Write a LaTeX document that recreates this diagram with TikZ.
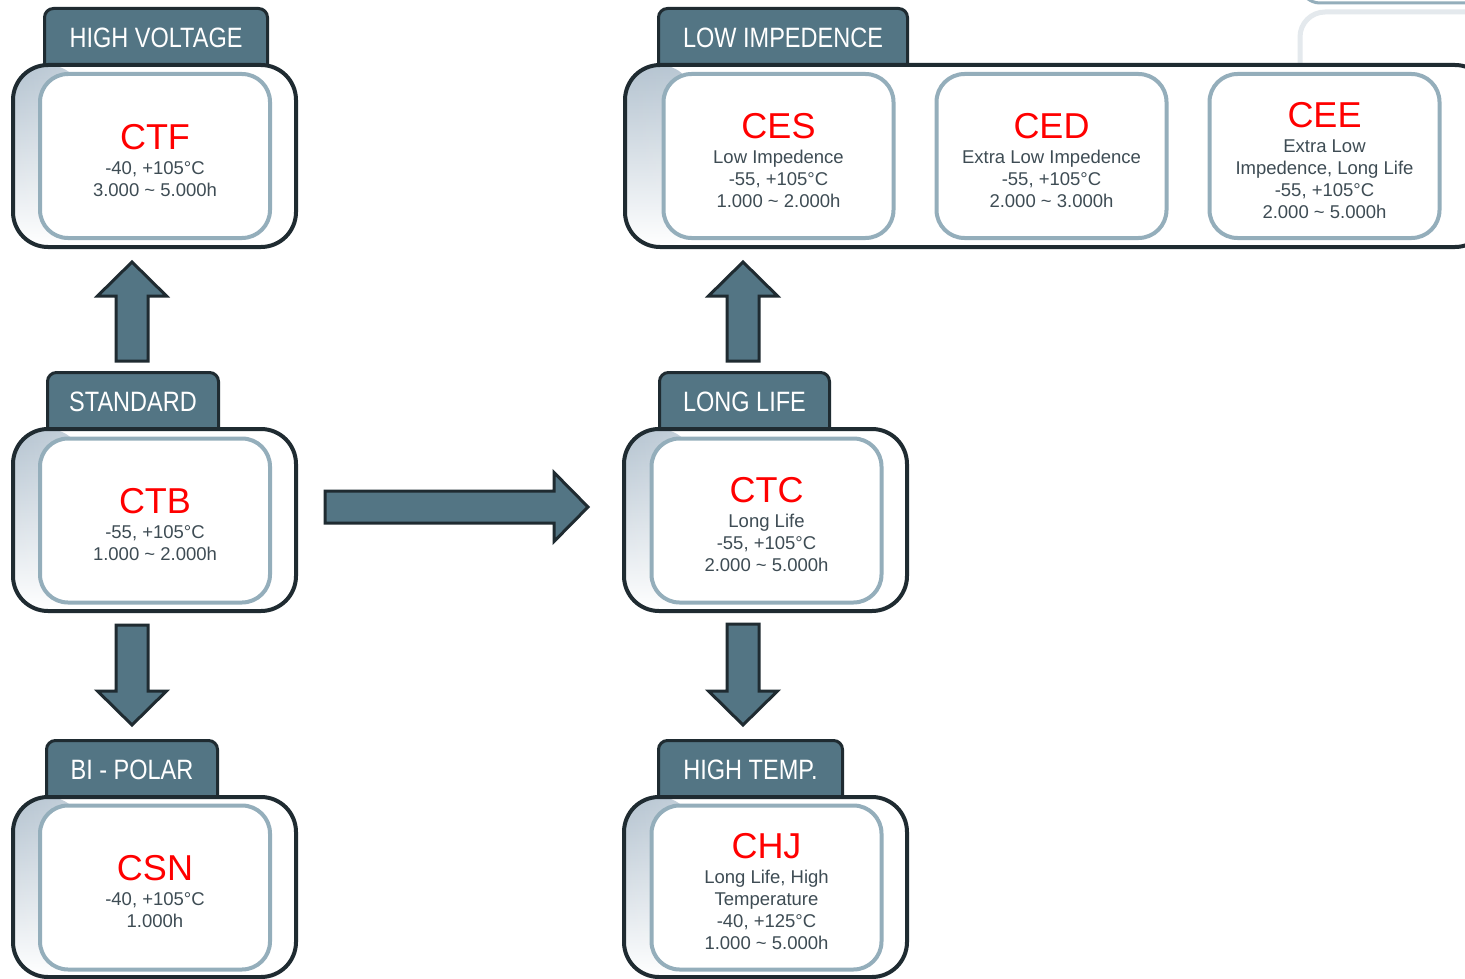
\documentclass[tikz,border=0pt]{standalone}
\usepackage{fontspec}
\setmainfont{Liberation Sans}
\newfontfamily\tabfont[FakeStretch=0.84]{Liberation Sans}
\usetikzlibrary{calc,fadings}
\definecolor{tabfill}{HTML}{537584}
\definecolor{darkline}{HTML}{1F2B31}
\definecolor{innerline}{HTML}{94AEBB}
\definecolor{bodytext}{HTML}{3E4C54}
\definecolor{shL}{HTML}{B4C3D0}
\definecolor{titlered}{HTML}{FF0000}
\definecolor{faint}{HTML}{E4E9ED}
\tikzset{
  tabbox/.style={draw=darkline, line width=3pt, fill=tabfill, rounded corners=9pt,
    minimum height=66pt, anchor=north, text=white,
    font=\tabfont\fontsize{28}{28}\selectfont, text height=18pt, text depth=6pt, inner sep=0pt},
  outerbox/.style={draw=darkline, line width=4pt, rounded corners=35pt, fill=white,
    path picture={\shade[top color=shL, bottom color=white, path fading=east]
      (path picture bounding box.north west) rectangle ([xshift=70pt]path picture bounding box.south west);},
    minimum height=182pt, minimum width=283pt, inner sep=0pt},
  innerbox/.style={draw=innerline, line width=4pt, fill=white, rounded corners=28pt,
    minimum width=230pt, minimum height=164pt, align=center, text=bodytext,
    font=\fontsize{18.5}{22}\selectfont, inner sep=0pt},
  barrow/.style={draw=darkline, line width=3pt, fill=tabfill, line join=miter},
}
\newcommand\ttl[1]{{\fontsize{36}{36}\selectfont\color{titlered}\rule{0pt}{33.5pt}#1}\\[3pt]}
\newcommand\blockarrow[2]{%
  \draw[barrow] let \p1=(#1), \p2=(#2), \n1={veclen(\x2-\x1,\y2-\y1)},
    \n2={(\x2-\x1)/\n1}, \n3={(\y2-\y1)/\n1} in
    ({\x1-16pt*(\n3)},{\y1+16pt*(\n2)})
    -- ({\x2-34pt*(\n2)-16pt*(\n3)},{\y2-34pt*(\n3)+16pt*(\n2)})
    -- ({\x2-34pt*(\n2)-34.5pt*(\n3)},{\y2-34pt*(\n3)+34.5pt*(\n2)})
    -- (\x2,\y2)
    -- ({\x2-34pt*(\n2)+34.5pt*(\n3)},{\y2-34pt*(\n3)-34.5pt*(\n2)})
    -- ({\x2-34pt*(\n2)+16pt*(\n3)},{\y2-34pt*(\n3)-16pt*(\n2)})
    -- ({\x1+16pt*(\n3)},{\y1-16pt*(\n2)}) -- cycle;}
\begin{document}
\begin{tikzpicture}[x=1pt,y=-1pt]
\useasboundingbox (0,0) rectangle (1465,979);
\clip (0,0) rectangle (1465,979);
\fill[white] (0,0) rectangle (1465,979);

% faint remnants at top right
\draw[faint, line width=5pt, rounded corners=25pt] (1300,70) -- (1300,12) -- (1490,12);
\draw[innerline, line width=3pt, rounded corners=20pt] (1300,-40) -- (1300,3) -- (1490,3);

% tabs
\node[tabbox, minimum width=223pt] (hvtab) at (156,7) {HIGH VOLTAGE};
\node[tabbox, minimum width=171pt] (sttab) at (133,371) {STANDARD};
\node[tabbox, minimum width=171pt] (bptab) at (132,739) {BI - POLAR};
\node[tabbox, minimum width=249pt] (litab) at (783,7) {LOW IMPEDENCE};
\node[tabbox, minimum width=170pt] (lltab) at (744.5,371) {LONG LIFE};
\node[tabbox, minimum width=184pt] (httab) at (750.5,739) {HIGH TEMP.};

% outer boxes
\node[outerbox] (ctfout) at (154.5,156) {};
\node[outerbox] (ctbout) at (154.5,520) {};
\node[outerbox, minimum height=180pt] (csnout) at (154.5,887) {};
\node[outerbox, minimum width=865pt] (liout) at (1057.5,156) {};
\node[outerbox] (ctcout) at (765.5,520) {};
\node[outerbox, minimum height=180pt] (chjout) at (765.5,887) {};

% inner boxes
\node[innerbox] (ctf) at (155,156) {\ttl{CTF}-40, +105°C\\3.000 \textasciitilde{} 5.000h};
\node[innerbox] (ctb) at (155,520.5) {\ttl{CTB}-55, +105°C\\1.000 \textasciitilde{} 2.000h};
\node[innerbox] (csn) at (155,887.5) {\ttl{CSN}-40, +105°C\\1.000h};
\node[innerbox] (ces) at (778.5,156) {\ttl{CES}Low Impedence\\-55, +105°C\\1.000 \textasciitilde{} 2.000h};
\node[innerbox] (ced) at (1051.5,156) {\ttl{CED}Extra Low Impedence\\-55, +105°C\\2.000 \textasciitilde{} 3.000h};
\node[innerbox] (cee) at (1324.5,156) {\ttl{CEE}Extra Low\\Impedence, Long Life\\-55, +105°C\\2.000 \textasciitilde{} 5.000h};
\node[innerbox] (ctc) at (766.5,520.5) {\ttl{CTC}Long Life\\-55, +105°C\\2.000 \textasciitilde{} 5.000h};
\node[innerbox] (chj) at (766.5,887.5) {\ttl{CHJ}Long Life, High\\Temperature\\-40, +125°C\\1.000 \textasciitilde{} 5.000h};

% arrows
\coordinate (a1s) at (132,361);  \coordinate (a1e) at (132,262);
\coordinate (a2s) at (132,625);  \coordinate (a2e) at (132,725);
\coordinate (a3s) at (325,507);  \coordinate (a3e) at (588,507);
\coordinate (a4s) at (743,361);  \coordinate (a4e) at (743,262);
\coordinate (a5s) at (743,624);  \coordinate (a5e) at (743,725);
\blockarrow{a1s}{a1e}
\blockarrow{a2s}{a2e}
\blockarrow{a3s}{a3e}
\blockarrow{a4s}{a4e}
\blockarrow{a5s}{a5e}
\end{tikzpicture}
\end{document}
